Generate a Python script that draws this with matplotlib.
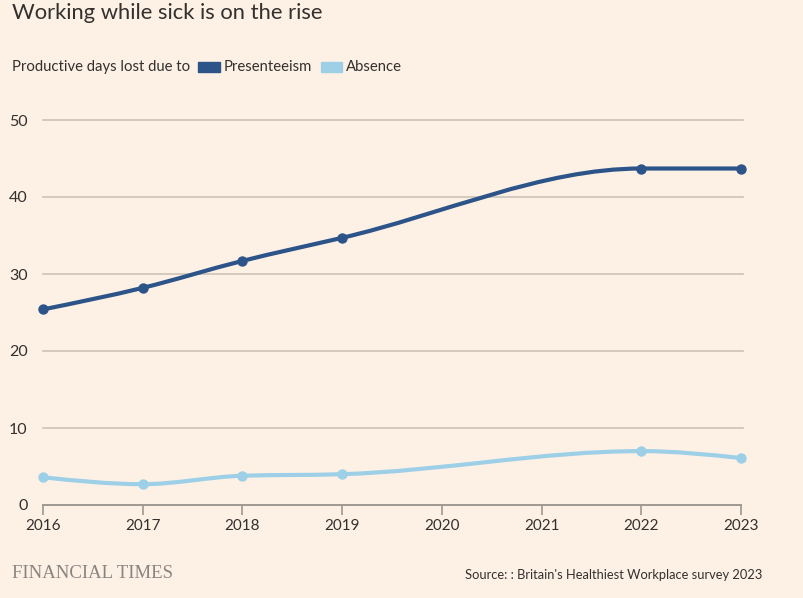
import numpy as np
import matplotlib
matplotlib.use("Agg")
import matplotlib.pyplot as plt
from matplotlib.path import Path
from matplotlib.patches import PathPatch, Rectangle
from matplotlib import font_manager

years = [2016, 2017, 2018, 2019, 2022, 2023]
presenteeism = [25.4, 28.2, 31.7, 34.7, 43.7, 43.7]
absence = [3.6, 2.7, 3.8, 4.0, 7.0, 6.1]
year_ticks = [2016, 2017, 2018, 2019, 2020, 2021, 2022, 2023]
value_ticks = [0, 10, 20, 30, 40, 50]

BG = '#FDF1E6'
DARK = '#2C5489'
LIGHT = '#9DD0E6'
TEXT = '#33302E'
GRID = '#CCC3B6'

names = {f.name for f in font_manager.fontManager.ttflist}
SANS = 'Lato' if 'Lato' in names else 'DejaVu Sans'
NARROW = 'Liberation Sans Narrow' if 'Liberation Sans Narrow' in names else SANS
SERIF = 'Liberation Serif' if 'Liberation Serif' in names else 'DejaVu Serif'
plt.rcParams['font.family'] = [SANS, 'DejaVu Sans']


def monotone_path(xs, ys):
    '''Bezier path with monotone-x tangents (same as d3 curveMonotoneX)'''
    xs = np.asarray(xs, float)
    ys = np.asarray(ys, float)
    n = len(xs)
    t = np.zeros(n)
    for i in range(1, n - 1):
        h0, h1 = xs[i] - xs[i-1], xs[i+1] - xs[i]
        s0, s1 = (ys[i] - ys[i-1]) / h0, (ys[i+1] - ys[i]) / h1
        p = (s0 * h1 + s1 * h0) / (h0 + h1)
        t[i] = (np.sign(s0) + np.sign(s1)) * min(abs(s0), abs(s1), 0.5 * abs(p))
    t[0] = (3 * (ys[1] - ys[0]) / (xs[1] - xs[0]) - t[1]) / 2
    t[-1] = (3 * (ys[-1] - ys[-2]) / (xs[-1] - xs[-2]) - t[-2]) / 2
    verts = [(xs[0], ys[0])]
    codes = [Path.MOVETO]
    for i in range(n - 1):
        dx = (xs[i+1] - xs[i]) / 3
        verts += [(xs[i] + dx, ys[i] + dx * t[i]),
                  (xs[i+1] - dx, ys[i+1] - dx * t[i+1]),
                  (xs[i+1], ys[i+1])]
        codes += [Path.CURVE4] * 3
    return Path(verts, codes)


W, H = 804, 598
fig = plt.figure(figsize=(W / 100, H / 100), dpi=100, facecolor=BG)
ax = fig.add_axes([43 / W, 1 - 505 / H, 698 / W, 385 / H], facecolor=BG)

ax.set_xlim(2016, 2023)
ax.set_ylim(0, 50)

for v in value_ticks[1:]:
    ax.plot([2016, 2023.02], [v, v], color=GRID, lw=1.2, zorder=1, clip_on=False)

for series, col in [(presenteeism, DARK), (absence, LIGHT)]:
    ax.add_patch(PathPatch(monotone_path(years, series), facecolor='none',
                           edgecolor=col, lw=3, zorder=3, clip_on=False))
    ax.scatter(years, series, s=42, color=col, zorder=4, clip_on=False)

for s in ['top', 'right', 'left']:
    ax.spines[s].set_visible(False)
ax.spines['bottom'].set_color('#9E9890')
ax.spines['bottom'].set_linewidth(1.4)
ax.set_xticks(year_ticks)
ax.set_xticklabels([str(y) for y in year_ticks])
ax.set_yticks(value_ticks)
ax.tick_params(axis='x', length=7, width=1.2, color='#9E9890', labelsize=11,
               labelcolor=TEXT, pad=3)
ax.tick_params(axis='y', length=0, labelsize=11.5, labelcolor=TEXT, pad=11)

fig.text(12 / W, 1 - 13 / H, 'Working while sick is on the rise', fontsize=15.8,
         color=TEXT, va='center', ha='left')
fig.text(12 / W, 1 - 67 / H, 'Productive days lost due to', fontsize=10.7,
         color=TEXT, va='center', ha='left')
fig.patches.append(Rectangle((198 / W, 1 - 72 / H), 22 / W, 10 / H,
                             transform=fig.transFigure, color=DARK))
fig.text(224 / W, 1 - 67 / H, 'Presenteeism', fontsize=10.7, color=TEXT,
         va='center', ha='left')
fig.patches.append(Rectangle((321 / W, 1 - 72 / H), 21 / W, 10 / H,
                             transform=fig.transFigure, color=LIGHT))
fig.text(346 / W, 1 - 67 / H, 'Absence', fontsize=10.7, color=TEXT,
         va='center', ha='left')

fig.text(12 / W, 1 - 574 / H, 'FINANCIAL TIMES', fontsize=13.5, color='#8A8480',
         family=SERIF, va='center', ha='left')
fig.text(762 / W, 1 - 575 / H, "Source: : Britain's Healthiest Workplace survey 2023",
         fontsize=9.3, color=TEXT, family=NARROW, va='center', ha='right')

fig.savefig('out.png', dpi=100, facecolor=BG)
